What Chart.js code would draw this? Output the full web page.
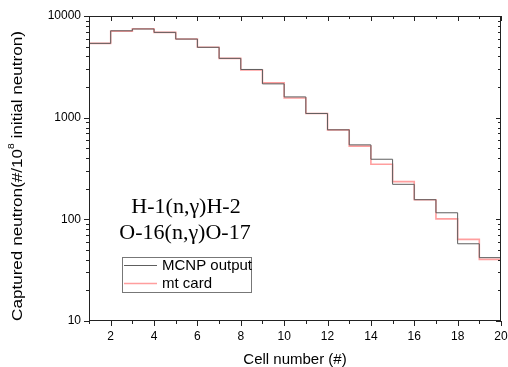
<!DOCTYPE html>
<html><head><meta charset="utf-8">
<script src="https://cdn.jsdelivr.net/npm/chart.js@4/dist/chart.umd.min.js"></script>
<style>html,body{margin:0;padding:0;background:#fff;}#wrap{width:508px;height:367px;position:relative;}</style>
</head><body><div id="wrap"><canvas id="c" width="508" height="367"></canvas></div>
<script>
const cells = [1,2,3,4,5,6,7,8,9,10,11,12,13,14,15,16,17,18,19];
const mcnpOutput = [5380,7150,7450,6900,5930,4920,3830,2980,2150,1600,1100,759,540,390,221,156,116,57.5,42];
const mtCard = [5380,7100,7500,6900,5930,4920,3830,2940,2200,1560,1100,759,525,348,235,156,101,63.5,40.4];
const xTickLabels = [2,4,6,8,10,12,14,16,18,20];
const yTickLabels = [10,100,1000,10000];
const seriesNames = ['MCNP output','mt card'];
const annotationLines = ['H-1(n,\u03b3)H-2','O-16(n,\u03b3)O-17'];

function toPoints(vals){
  const pts = cells.map((c,i)=>({x:c,y:vals[i]}));
  pts.push({x:cells[cells.length-1]+1,y:vals[vals.length-1]});
  return pts;
}
const GRAY='#5e5e5e', RED='rgba(255,40,40,0.45)';
const SANS='"Liberation Sans", Arial, sans-serif';

const decor = {
  id:'decor',
  afterDraw(chart){
    const ctx=chart.ctx, a=chart.chartArea, xs=chart.scales.x, ys=chart.scales.y;
    ctx.save();
    ctx.strokeStyle='#222'; ctx.lineWidth=1;
    ctx.strokeRect(Math.round(a.left)+0.5,Math.round(a.top)+0.5,Math.round(a.right-a.left)-1,Math.round(a.bottom-a.top)-1);
    ctx.beginPath();
    for(let v=1; v<=20; v++){
      const px=Math.round(xs.getPixelForValue(v))+0.5;
      const L = (xTickLabels.includes(v))?5:3;
      ctx.moveTo(px,a.bottom); ctx.lineTo(px,a.bottom+L);
      ctx.moveTo(px,a.top); ctx.lineTo(px,a.top+L);
    }
    for(let d=10; d<=10000; d*=10){
      for(let m=1; m<=9; m++){
        const v=d*m; if(v>10000) break;
        const py=Math.round(ys.getPixelForValue(v))+0.5;
        const L = (m===1)?5:3;
        ctx.moveTo(a.left,py); ctx.lineTo(a.left-L,py);
        ctx.moveTo(a.right,py); ctx.lineTo(a.right-L,py);
      }
    }
    ctx.stroke();
    // annotation
    ctx.fillStyle='#000'; ctx.textAlign='center'; ctx.textBaseline='middle';
    ctx.font='22px "Liberation Serif", serif';
    ctx.fillText(annotationLines[0],186,207);
    ctx.fillText(annotationLines[1],185,233);
    // legend
    ctx.strokeStyle='#777'; ctx.lineWidth=1;
    ctx.strokeRect(122.5,257.5,129,35);
    const ds=chart.data.datasets;
    const rows=[265,283];
    ds.forEach((d,i)=>{
      ctx.strokeStyle=d.borderColor; ctx.lineWidth=d.borderWidth;
      ctx.beginPath(); ctx.moveTo(124,rows[i]+0.5); ctx.lineTo(157,rows[i]+0.5); ctx.stroke();
      ctx.fillStyle='#000'; ctx.textAlign='left'; ctx.textBaseline='middle';
      ctx.font='15px '+SANS;
      ctx.fillText(d.label,162,rows[i]+1);
    });
    // y title with superscript
    ctx.translate(18,176); ctx.rotate(-Math.PI/2); ctx.scale(1.14,1);
    const f1='15px '+SANS, f2='9px '+SANS;
    const s1='Captured neutron(#/10', s2='8', s3=' initial neutron)';
    ctx.font=f1; const w1=ctx.measureText(s1).width, w3=ctx.measureText(s3).width;
    ctx.font=f2; const w2=ctx.measureText(s2).width;
    let x=-(w1+w2+w3)/2;
    ctx.fillStyle='#000'; ctx.textAlign='left'; ctx.textBaseline='middle';
    ctx.font=f1; ctx.fillText(s1,x,0); x+=w1;
    ctx.font=f2; ctx.fillText(s2,x,-6); x+=w2;
    ctx.font=f1; ctx.fillText(s3,x,0);
    ctx.restore();
  }
};

new Chart(document.getElementById('c'),{
  type:'line',
  data:{datasets:[
    {label:seriesNames[0],data:toPoints(mcnpOutput),borderColor:GRAY,borderWidth:1,stepped:'before',pointRadius:0,fill:false},
    {label:seriesNames[1],data:toPoints(mtCard),borderColor:RED,borderWidth:1.6,stepped:'before',pointRadius:0,fill:false}
  ]},
  options:{
    responsive:false,animation:false,
    layout:{padding:{top:16,right:0,left:0,bottom:0}},
    plugins:{legend:{display:false},tooltip:{enabled:false}},
    scales:{
      x:{type:'linear',min:1,max:20,
        grid:{display:false,drawTicks:false},border:{display:false},
        ticks:{stepSize:1,autoSkip:false,maxRotation:0,padding:8,color:'#000',
          font:{family:SANS,size:12},
          callback:(v)=>xTickLabels.includes(v)?String(v):''},
        title:{display:true,text:'Cell number (#)',color:'#000',
          font:{family:SANS,size:15,lineHeight:0.9},padding:{top:0,bottom:0}},
        afterFit(s){s.height=46; s.paddingRight=7;}
      },
      y:{type:'logarithmic',min:10,max:10000,
        grid:{display:false,drawTicks:false},border:{display:false},
        ticks:{autoSkip:false,padding:8,color:'#000',
          font:{family:SANS,size:12},
          callback:(v)=>yTickLabels.includes(v)?String(v):''},
        afterFit(s){s.width=89;}
      }
    }
  },
  plugins:[decor]
});
</script></body></html>
